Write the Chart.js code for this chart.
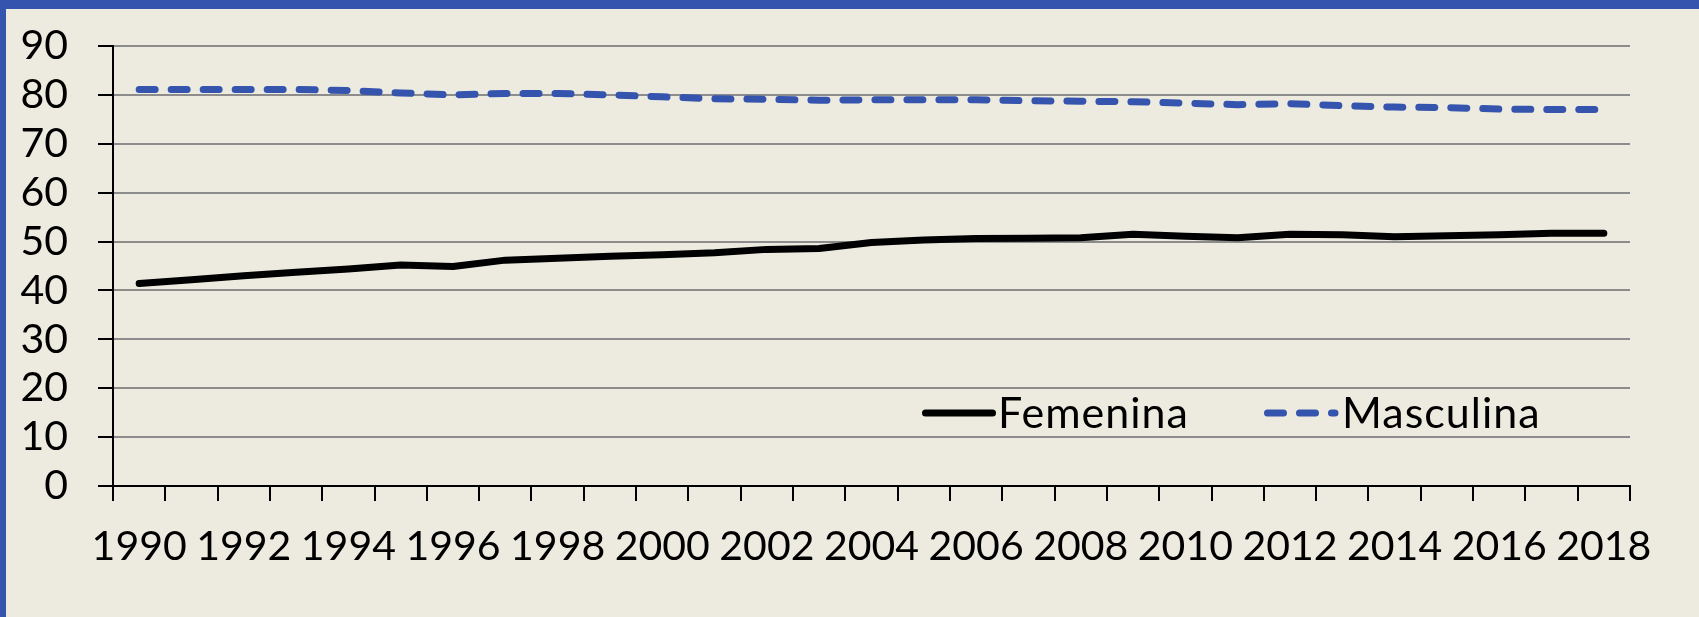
<!DOCTYPE html>
<html>
<head>
<meta charset="utf-8">
<script src="https://cdn.jsdelivr.net/npm/chart.js@4/dist/chart.umd.min.js"></script>
<style>
  html, body { margin: 0; padding: 0; background: #EDEBE0; }
  #wrap { position: absolute; left: 0; top: 0; width: 1699px; height: 617px; }
</style>
</head>
<body>
<div id="wrap"><canvas id="c" width="1699" height="617"></canvas></div>
<script>
// ---- data ----
const years = ['1990','1991','1992','1993','1994','1995','1996','1997','1998','1999',
               '2000','2001','2002','2003','2004','2005','2006','2007','2008','2009',
               '2010','2011','2012','2013','2014','2015','2016','2017','2018'];
const femenina = [41.4, 42.2, 43.0, 43.7, 44.4, 45.2, 44.9, 46.2, 46.6, 47.0,
                  47.3, 47.7, 48.4, 48.6, 49.8, 50.3, 50.6, 50.7, 50.8, 51.5,
                  51.1, 50.8, 51.5, 51.4, 51.0, 51.2, 51.4, 51.7, 51.7];
const masculina = [81.1, 81.1, 81.1, 81.1, 80.9, 80.4, 80.0, 80.3, 80.3, 80.0,
                   79.6, 79.2, 79.1, 78.9, 79.0, 79.0, 79.0, 78.8, 78.7, 78.6,
                   78.3, 78.0, 78.2, 77.8, 77.5, 77.4, 77.1, 77.0, 77.0];
const seriesNames = ['Femenina', 'Masculina'];
const yTicks = { min: 0, max: 90, step: 10 };

const BG = '#EDEBE0';
const BLUE = '#3454AE';
const FONT = 'Lato, "Open Sans", sans-serif';

const framePlugin = {
  id: 'frame',
  beforeDraw(chart) {
    const ctx = chart.ctx;
    ctx.save();
    ctx.fillStyle = BG;
    ctx.fillRect(0, 0, chart.width, chart.height);
    ctx.fillStyle = BLUE;
    ctx.fillRect(0, 0, chart.width, 9);
    ctx.fillRect(0, 0, 6, chart.height);
    ctx.restore();
  }
};

const legendPlugin = {
  id: 'innerLegend',
  afterDatasetsDraw(chart) {
    const ctx = chart.ctx;
    const a = chart.chartArea;
    const w = a.right - a.left;
    const fx = px => a.left + (px - 113) / 1517 * w;
    const yc = a.top + (413 - 46) / (486 - 46) * (a.bottom - a.top);
    const items = [
      { ds: chart.data.datasets[0], x0: fx(925.5), x1: fx(992.5), tx: fx(998) },
      { ds: chart.data.datasets[1], x0: fx(1267.5), x1: fx(1335), tx: fx(1342) }
    ];
    ctx.save();
    items.forEach(it => {
      ctx.beginPath();
      ctx.strokeStyle = it.ds.borderColor;
      ctx.lineWidth = it.ds.borderWidth;
      ctx.lineCap = 'round';
      ctx.setLineDash(it.ds.borderDash || []);
      ctx.moveTo(it.x0, yc);
      ctx.lineTo(it.x1, yc);
      ctx.stroke();
      ctx.setLineDash([]);
      ctx.fillStyle = '#000';
      ctx.font = '43px ' + FONT;
      if ('letterSpacing' in ctx) ctx.letterSpacing = '1px';
      ctx.textBaseline = 'alphabetic';
      ctx.textAlign = 'left';
      ctx.fillText(it.ds.label, it.tx, yc + 15);
      if ('letterSpacing' in ctx) ctx.letterSpacing = '0px';
    });
    ctx.restore();
  }
};

new Chart(document.getElementById('c'), {
  type: 'line',
  data: {
    labels: years,
    datasets: [
      {
        label: seriesNames[0],
        data: femenina,
        borderColor: '#000000',
        backgroundColor: '#000000',
        borderWidth: 7,
        borderCapStyle: 'round',
        borderJoinStyle: 'round',
        pointRadius: 0,
        tension: 0
      },
      {
        label: seriesNames[1],
        data: masculina,
        borderColor: BLUE,
        backgroundColor: BLUE,
        borderWidth: 7,
        borderDash: [16, 16],
        borderCapStyle: 'round',
        borderJoinStyle: 'round',
        pointRadius: 0,
        tension: 0
      }
    ]
  },
  options: {
    responsive: false,
    animation: false,
    devicePixelRatio: 1,
    layout: { padding: { top: 46, right: 69, bottom: 0, left: 0 } },
    plugins: {
      legend: { display: false },
      tooltip: { enabled: false }
    },
    scales: {
      x: {
        type: 'category',
        offset: true,
        grid: {
          offset: true,
          drawOnChartArea: false,
          drawTicks: true,
          tickLength: 15,
          tickColor: '#000',
          tickWidth: 2,
          color: '#000',
          lineWidth: 2
        },
        border: { color: '#000', width: 2 },
        ticks: {
          autoSkip: false,
          maxRotation: 0,
          minRotation: 0,
          padding: 21,
          color: '#000',
          font: { family: FONT, size: 41 },
          callback: function(v, i) { return i % 2 === 0 ? this.getLabelForValue(v) : ''; }
        },
        afterFit(scale) { scale.height = 131; }
      },
      y: {
        min: yTicks.min,
        max: yTicks.max,
        grid: {
          color: '#8C8C8C',
          lineWidth: 2,
          tickLength: 15,
          tickColor: '#000',
          tickWidth: 2
        },
        border: { color: '#000', width: 2 },
        ticks: {
          stepSize: yTicks.step,
          autoSkip: false,
          padding: 30,
          color: '#000',
          font: { family: FONT, size: 41 }
        },
        afterFit(scale) {
          scale.width = 113;
          scale.paddingTop = 20;
          scale.paddingBottom = 20;
        }
      }
    }
  },
  plugins: [framePlugin, legendPlugin]
});
</script>
</body>
</html>
